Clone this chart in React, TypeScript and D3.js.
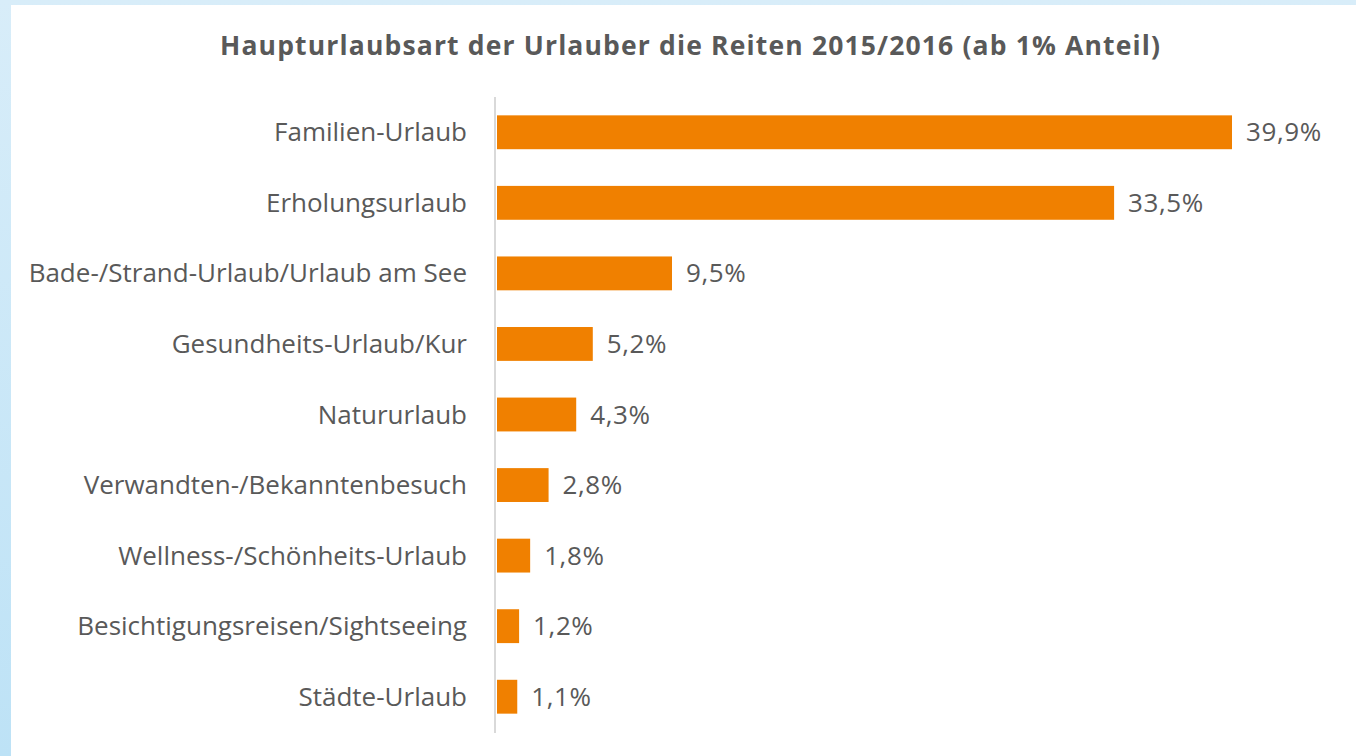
import React from "react";
import * as d3 from "d3";

const categories = [
  "Familien-Urlaub",
  "Erholungsurlaub",
  "Bade-/Strand-Urlaub/Urlaub am See",
  "Gesundheits-Urlaub/Kur",
  "Natururlaub",
  "Verwandten-/Bekanntenbesuch",
  "Wellness-/Schönheits-Urlaub",
  "Besichtigungsreisen/Sightseeing",
  "Städte-Urlaub",
];
const values = [39.9, 33.5, 9.5, 5.2, 4.3, 2.8, 1.8, 1.2, 1.1];
const valueLabels = ["39,9%", "33,5%", "9,5%", "5,2%", "4,3%", "2,8%", "1,8%", "1,2%", "1,1%"];
const title = "Haupturlaubsart der Urlauber die Reiten 2015/2016 (ab 1% Anteil)";

const W = 1356;
const H = 756;
const FONT = "'Open Sans', 'Noto Sans', sans-serif";

export default function App() {
  const x = d3.scaleLinear().domain([0, 39.9]).range([497, 1232]);
  const y = d3
    .scaleBand<string>()
    .domain(categories)
    .range([97, 732])
    .paddingInner(0.52)
    .paddingOuter(0.26);
  return (
    <svg
      width={W}
      height={H}
      style={{ position: "absolute", left: 0, top: 0, display: "block" }}
    >
      <defs>
        <linearGradient id="bg" x1="0" y1="0" x2="0" y2="1">
          <stop offset="0" stopColor="#d8edf9" />
          <stop offset="1" stopColor="#bde2f6" />
        </linearGradient>
      </defs>
      <rect x={0} y={0} width={W} height={H} fill="url(#bg)" />
      <rect x={11} y={5} width={W - 11} height={H - 5} fill="#ffffff" />
      <text
        x={220}
        y={55}
        textAnchor="start"
        fontFamily={FONT}
        fontWeight={700}
        fontSize={26.5}
        textLength={940}
        lengthAdjust="spacing"
        fill="#595959"
      >
        {title}
      </text>
      <line x1={495} x2={495} y1={97} y2={733} stroke="#d9d9d9" strokeWidth={2} />
      {categories.map((c, i) => {
        const yy = y(c)!;
        const bw = y.bandwidth();
        return (
          <g key={c}>
            <rect
              x={x(0)}
              y={yy}
              width={x(values[i]) - x(0)}
              height={bw}
              fill="#f08000"
            />
            <text
              x={467}
              y={yy + bw / 2}
              dy="0.35em"
              textAnchor="end"
              fontFamily={FONT}
              fontSize={26}
              fill="#595959"
            >
              {c}
            </text>
            <text
              x={x(values[i]) + 14}
              y={yy + bw / 2}
              dy="0.35em"
              textAnchor="start"
              fontFamily={FONT}
              fontSize={26}
              letterSpacing={0.6}
              fill="#595959"
            >
              {valueLabels[i]}
            </text>
          </g>
        );
      })}
    </svg>
  );
}
